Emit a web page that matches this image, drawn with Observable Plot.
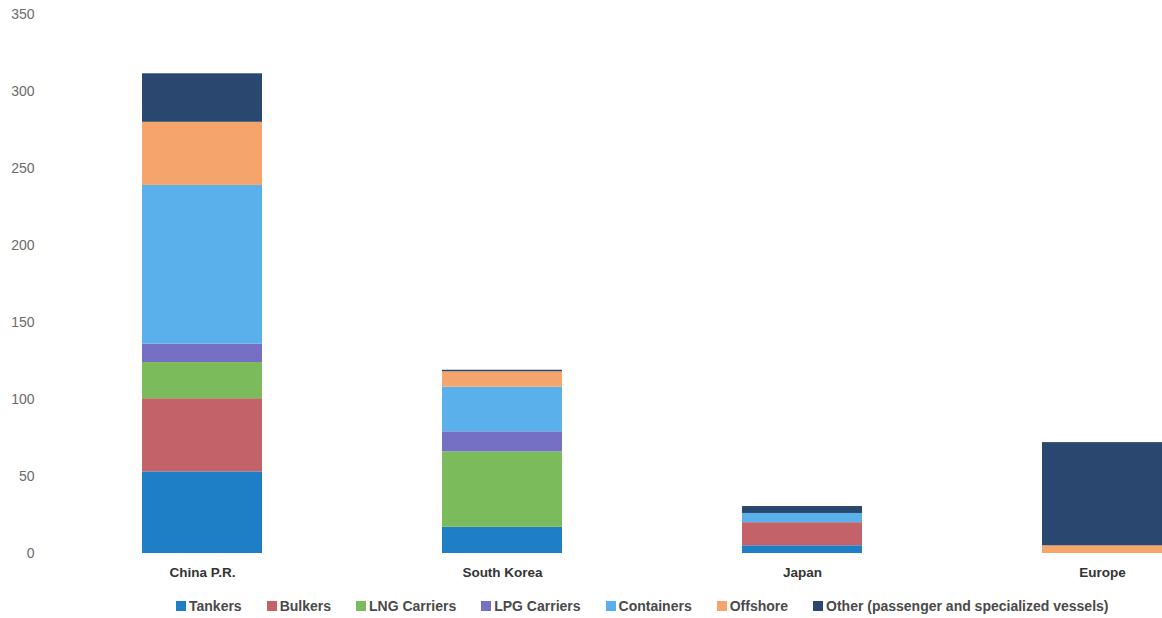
<!DOCTYPE html>
<html>
<head>
<meta charset="utf-8">
<script src="https://cdn.jsdelivr.net/npm/d3@7"></script>
<script src="https://cdn.jsdelivr.net/npm/@observablehq/plot@0.6"></script>
<style>
  html, body { margin: 0; padding: 0; background: #fff; }
  #wrap { width: 1162px; overflow: hidden; font-family: "Liberation Sans", Arial, sans-serif; }
  #wrap svg { overflow: hidden; }
  #legend { display: flex; justify-content: flex-start; padding-left: 176px; gap: 0; margin-top: 8px;
            font-size: 14px; font-weight: bold; color: #4a4a4a; }
  .item { display: flex; align-items: center; margin-right: 25px; }
  .sw { width: 10px; height: 10px; margin-right: 3px; }
</style>
</head>
<body>
<div id="wrap"><div id="chart"></div><div id="legend"></div></div>
<script>
const regions = ["China P.R.", "South Korea", "Japan", "Europe"];
const series = ["Tankers", "Bulkers", "LNG Carriers", "LPG Carriers", "Containers", "Offshore", "Other (passenger and specialized vessels)"];
const colors = ["#1f7fc6", "#c4626a", "#7cbb5c", "#7670c4", "#59b0ea", "#f5a46b", "#29476f"];
const tankers    = [53, 17, 5, 0];
const bulkers    = [47.5, 0, 15, 0];
const lng        = [23.5, 49, 0, 0];
const lpg        = [12, 13, 0, 0];
const containers = [103, 29, 6, 0];
const offshore   = [41, 10, 0, 5];
const other      = [31.5, 1, 4.5, 67];
const yTicks = [0, 50, 100, 150, 200, 250, 300, 350];

const seriesValues = [tankers, bulkers, lng, lpg, containers, offshore, other];
const data = [];
series.forEach((s, i) => regions.forEach((r, j) => data.push({region: r, series: s, value: seriesValues[i][j]})));

const plot = Plot.plot({
  width: 1162,
  height: 590,
  marginTop: 14,
  marginBottom: 37,
  marginLeft: 50,
  marginRight: 0,
  style: {fontFamily: "Liberation Sans, Arial, sans-serif", fontSize: "12px", color: "#595959", background: "#fff"},
  x: {domain: regions, range: [52, 1252], paddingInner: 0.6, paddingOuter: 0.3, axis: null},
  y: {domain: [0, 350], axis: null},
  color: {domain: series, range: colors},
  marks: [
    Plot.barY(data, Plot.stackY({x: "region", y: "value", fill: "series", order: null})),
    Plot.axisY({ticks: yTicks, tickSize: 0, tickPadding: 16, label: null, fontSize: 14, fill: "#6b6b6b"}),
    Plot.axisX({tickSize: 0, tickPadding: 14, label: null, fontSize: 13.5, fontWeight: "bold", fill: "#333"})
  ]
});
document.getElementById("chart").appendChild(plot);

const leg = document.getElementById("legend");
series.forEach((s, i) => {
  const it = document.createElement("div");
  it.className = "item";
  const sw = document.createElement("span");
  sw.className = "sw";
  sw.style.background = colors[i];
  const t = document.createElement("span");
  t.textContent = s;
  it.appendChild(sw); it.appendChild(t);
  leg.appendChild(it);
});
</script>
</body>
</html>
